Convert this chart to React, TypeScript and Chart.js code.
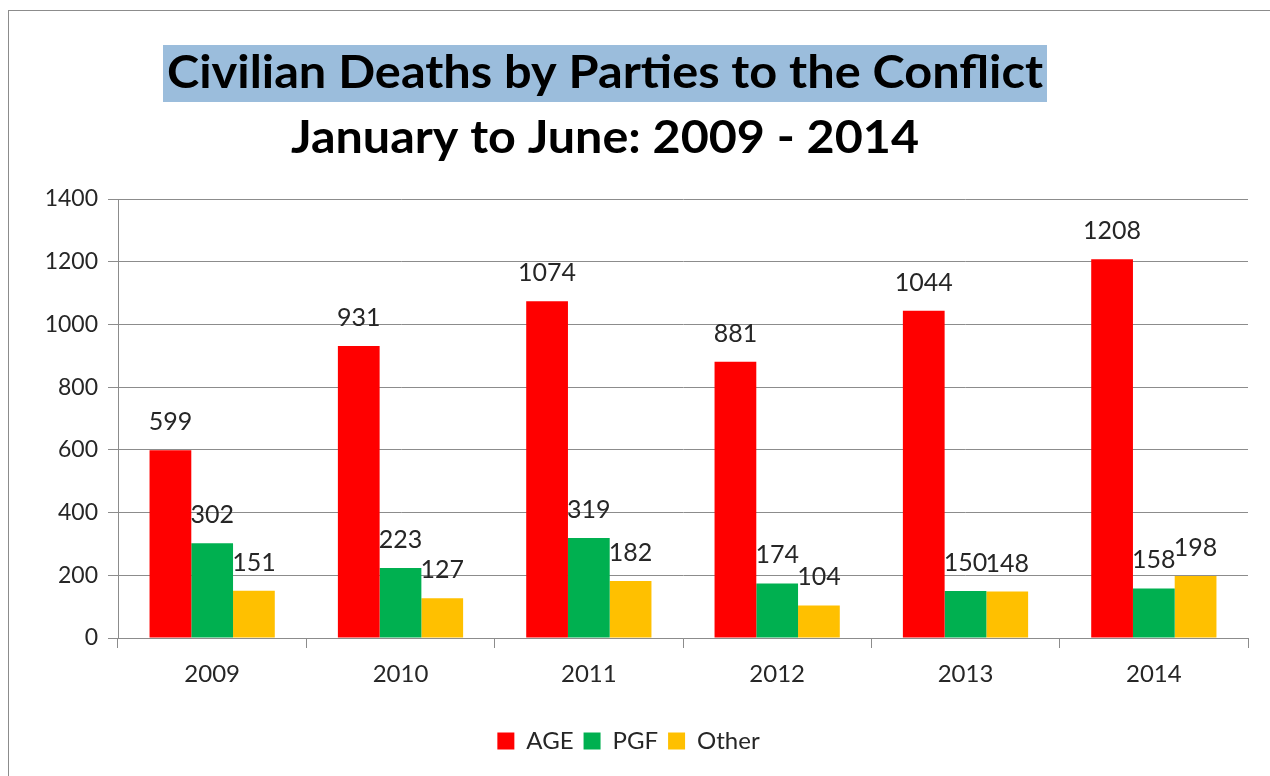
import React, { useEffect, useRef } from "react";
import { Chart, registerables } from "chart.js";

Chart.register(...registerables);

const categories = ["2009", "2010", "2011", "2012", "2013", "2014"];
const seriesNames = ["AGE", "PGF", "Other"];
const ageValues = [599, 931, 1074, 881, 1044, 1208];
const pgfValues = [302, 223, 319, 174, 150, 158];
const otherValues = [151, 127, 182, 104, 148, 198];
const yTickValues = [0, 200, 400, 600, 800, 1000, 1200, 1400];
const titleText = "Civilian Deaths by Parties to the Conflict";
const subtitleText = "January to June: 2009 - 2014";

const FONT = "Lato, 'Open Sans', 'Liberation Sans', sans-serif";
const GRID = "#8c8c8c";
const TEXT = "#262626";

const titlePlugin = {
  id: "customTitles",
  beforeDraw(chart: any) {
    const ctx = chart.ctx as CanvasRenderingContext2D;
    const cx = 596;
    ctx.save();
    ctx.fillStyle = "#9bbddc";
    ctx.fillRect(154, 34, 884, 57);
    const drawFit = (text: string, y: number, target: number) => {
      ctx.font = `bold 46px ${FONT}`;
      ctx.fillStyle = "#000000";
      ctx.textAlign = "center";
      ctx.textBaseline = "alphabetic";
      const w = ctx.measureText(text).width;
      ctx.save();
      ctx.translate(cx, y);
      ctx.scale(target / w, 1);
      ctx.fillText(text, 0, 0);
      ctx.restore();
    };
    drawFit(titleText, 77, 876);
    drawFit(subtitleText, 142, 628);
    ctx.restore();
  },
};

const dataLabelPlugin = {
  id: "barValueLabels",
  afterDatasetsDraw(chart: any) {
    const ctx = chart.ctx as CanvasRenderingContext2D;
    ctx.save();
    ctx.font = `25px ${FONT}`;
    ctx.fillStyle = TEXT;
    ctx.textAlign = "center";
    ctx.textBaseline = "alphabetic";
    chart.data.datasets.forEach((ds: any, di: number) => {
      const meta = chart.getDatasetMeta(di);
      meta.data.forEach((bar: any, i: number) => {
        ctx.fillText(String(ds.data[i]), bar.x, bar.y - 20);
      });
    });
    ctx.restore();
  },
};

export default function App() {
  const canvasRef = useRef<HTMLCanvasElement | null>(null);

  useEffect(() => {
    if (!canvasRef.current) return;
    const chart = new Chart(canvasRef.current, {
      type: "bar",
      data: {
        labels: categories,
        datasets: [
          { label: seriesNames[0], data: ageValues, backgroundColor: "#ff0000" },
          { label: seriesNames[1], data: pgfValues, backgroundColor: "#00b050" },
          { label: seriesNames[2], data: otherValues, backgroundColor: "#ffc000" },
        ],
      },
      options: {
        animation: false,
        responsive: true,
        maintainAspectRatio: false,
        layout: { padding: { top: 188, right: 22, left: 0, bottom: 13 } },
        datasets: {
          bar: { categoryPercentage: 0.665, barPercentage: 1.0 },
        },
        plugins: {
          legend: {
            position: "bottom",
            labels: {
              font: { family: FONT, size: 24 },
              color: TEXT,
              boxWidth: 17,
              boxHeight: 17,
              padding: 10,
            },
          },
          tooltip: { enabled: false },
          title: { display: false },
        },
        scales: {
          x: {
            afterFit: (scale: any) => {
              scale.height = 81;
            },
            grid: {
              drawOnChartArea: false,
              drawTicks: true,
              tickLength: 10,
              color: GRID,
              lineWidth: 1,
            },
            border: { display: true, color: GRID, width: 1 },
            ticks: {
              font: { family: FONT, size: 24 },
              color: TEXT,
              padding: 12,
            },
          },
          y: {
            min: 0,
            max: 1400,
            afterFit: (scale: any) => {
              scale.width = 109;
            },
            afterBuildTicks: (scale: any) => {
              scale.ticks = yTickValues.map((v) => ({ value: v }));
            },
            grid: {
              color: GRID,
              lineWidth: 1,
              tickLength: 10,
              drawTicks: true,
            },
            border: { display: true, color: GRID, width: 1 },
            ticks: {
              font: { family: FONT, size: 23 },
              color: TEXT,
              padding: 10,
              callback: (value: any) => String(value),
            },
          },
        },
      },
      plugins: [titlePlugin, dataLabelPlugin],
    });
    return () => chart.destroy();
  }, []);

  return (
    <div
      style={{
        position: "absolute",
        left: 8,
        top: 10,
        right: 0,
        bottom: 0,
        borderLeft: "1px solid #8c8c8c",
        borderTop: "1px solid #8c8c8c",
        background: "#ffffff",
      }}
    >
      <canvas ref={canvasRef} />
    </div>
  );
}
